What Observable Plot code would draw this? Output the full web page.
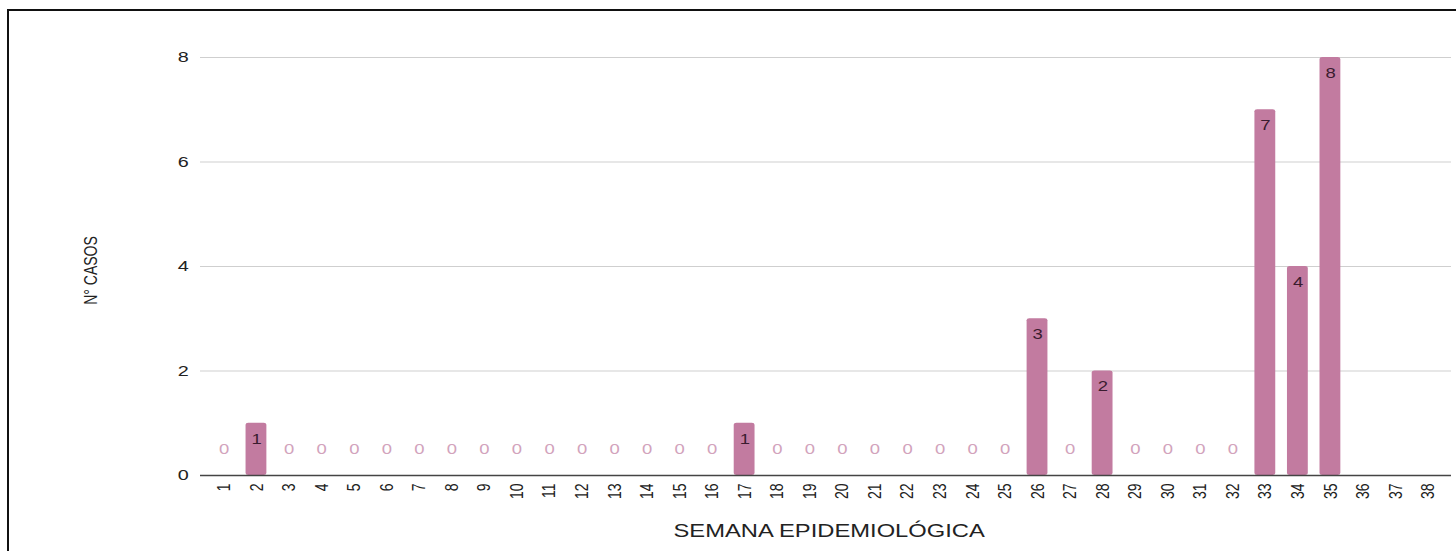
<!DOCTYPE html>
<html>
<head>
<meta charset="utf-8">
<script src="https://cdn.jsdelivr.net/npm/d3@7"></script>
<script src="https://cdn.jsdelivr.net/npm/@observablehq/plot@0.6"></script>
<style>
  html, body { margin: 0; padding: 0; background: #fff; overflow: hidden; }
  #wrap { position: relative; width: 1456px; height: 551px; overflow: hidden; }
  #border { position: absolute; left: 7px; top: 9px; width: 1500px; height: 600px; border: 2px solid #111; box-sizing: border-box; }
  #chart { position: absolute; left: 0; top: 0; }
  #chart svg { display: block; transform-origin: 0 0; }
</style>
</head>
<body>
<div id="wrap"><div id="border"></div><div id="chart"></div></div>
<script>
// ---- data ----
const weeks = ["1","2","3","4","5","6","7","8","9","10","11","12","13","14","15","16","17","18","19",
               "20","21","22","23","24","25","26","27","28","29","30","31","32","33","34","35","36","37","38"];
const cases = [0,1,0,0,0,0,0,0,0,0,0,0,0,0,0,0,1,0,0,0,0,0,0,0,0,3,0,2,0,0,0,0,7,4,8,null,null,null];
const yTicks = [0, 2, 4, 6, 8];
const yLabel = "N° CASOS";
const xLabel = "SEMANA EPIDEMIOLÓGICA";

const table = weeks.map((w, i) => ({w, v: cases[i]}));

// the reference image is horizontally stretched
const S = 1.32;
const W = 1456 / S;

const chart = Plot.plot({
  width: W,
  height: 551,
  marginLeft: 200 / S,
  marginRight: 5 / S,
  marginTop: 57,
  marginBottom: 76,
  style: {fontFamily: "'Liberation Sans', Arial, sans-serif", background: "transparent", color: "#222"},
  x: {domain: weeks, paddingInner: 0.36, paddingOuter: 0, round: false, insetLeft: 13 / S, insetRight: 13 / S, label: null},
  y: {domain: [0, 8], label: null},
  marks: [
    Plot.ruleY(yTicks.filter(d => d > 0), {stroke: "#cfcfcf", strokeWidth: 1}),
    Plot.barY(table.filter(d => d.v > 0), {x: "w", y: "v", fill: "#c27ba0", rx: 2}),
    Plot.ruleY([0], {stroke: "#444", strokeWidth: 1.5}),
    Plot.axisY({ticks: yTicks, tickSize: 0, tickPadding: 12 / S, fontSize: 15, label: null}),
    Plot.axisX({tickSize: 0, tickRotate: -90, tickPadding: 8, fontSize: 14, label: null}),
    Plot.text(table.filter(d => d.v === 0), {x: "w", y: "v", text: d => String(d.v), dy: -26, fill: "#d2a3bc", fontSize: 14}),
    Plot.text(table.filter(d => d.v > 0), {x: "w", y: "v", text: d => String(d.v), dy: 16, fill: "#3a1c2f", fontSize: 14}),
    Plot.text([yLabel], {frameAnchor: "left", text: d => d, rotate: -90, textAnchor: "middle", lineAnchor: "middle", dx: -(200 - 90) / S, dy: 4, fontSize: 14, fill: "#222"}),
    Plot.text([xLabel], {frameAnchor: "bottom", text: d => d, textAnchor: "middle", lineAnchor: "middle", dx: 3 / S, dy: 56, fontSize: 18, fill: "#222"})
  ]
});
chart.style.transform = `scaleX(${S})`;
document.getElementById("chart").appendChild(chart);
</script>
</body>
</html>
